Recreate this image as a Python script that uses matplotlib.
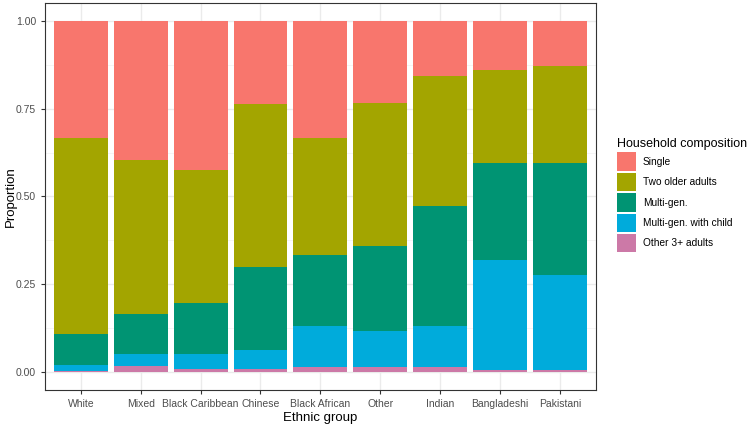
import numpy as np
import matplotlib
matplotlib.use("Agg")
import matplotlib.pyplot as plt
from matplotlib.patches import Patch

plt.rcParams["font.family"] = ["Liberation Sans", "DejaVu Sans"]

groups = ["White", "Mixed", "Black Caribbean", "Chinese", "Black African",
          "Other", "Indian", "Bangladeshi", "Pakistani"]

# stacking order from bottom to top
other_adults = [0.005, 0.018, 0.010, 0.010, 0.015, 0.015, 0.015, 0.006, 0.006]
multigen_child = [0.015, 0.035, 0.043, 0.055, 0.118, 0.102, 0.118, 0.314, 0.272]
multigen = [0.090, 0.114, 0.144, 0.235, 0.200, 0.243, 0.340, 0.275, 0.317]
two_older = [0.557, 0.438, 0.378, 0.462, 0.334, 0.407, 0.370, 0.265, 0.275]
single = [0.333, 0.395, 0.425, 0.238, 0.333, 0.233, 0.157, 0.140, 0.130]

labels = ["Single", "Two older adults", "Multi-gen.", "Multi-gen. with child",
          "Other 3+ adults"]
colors = ["#F8766D", "#A3A500", "#009473", "#00ABDB", "#CC79A7"]

fig = plt.figure(figsize=(7.55, 4.26), dpi=100)
ax = fig.add_axes([0.0596, 0.0845, 0.7294, 0.9085])

x = np.arange(1, len(groups) + 1)
series = [other_adults, multigen_child, multigen, two_older, single]
series_colors = colors[::-1]
bottom = np.zeros(len(groups))
for vals, col in zip(series, series_colors):
    ax.bar(x, vals, width=0.9, bottom=bottom, color=col, zorder=2)
    bottom += np.array(vals)

ax.set_xlim(0.4, 9.6)
ax.set_ylim(-0.05, 1.05)
ax.set_xticks(x)
ax.set_xticklabels(groups)
ax.set_yticks([0, 0.25, 0.5, 0.75, 1.0])
ax.set_yticklabels(["0.00", "0.25", "0.50", "0.75", "1.00"])
ax.set_yticks([0.125, 0.375, 0.625, 0.875], minor=True)
ax.grid(True, which="major", color="#EBEBEB", linewidth=1.0, zorder=0)
ax.grid(True, which="minor", axis="y", color="#F4F4F4", linewidth=0.6, zorder=0)
ax.set_axisbelow(True)
ax.tick_params(axis="both", which="major", labelsize=7.5, labelcolor="#4D4D4D",
               color="#333333", length=3, width=0.8)
ax.tick_params(which="minor", length=0)
for s in ax.spines.values():
    s.set_color("#333333")
    s.set_linewidth(0.8)

ax.set_xlabel("Ethnic group", fontsize=9.5, labelpad=2)
ax.set_ylabel("Proportion", fontsize=9.5)
ax.yaxis.set_label_coords(-0.051, 0.5)

handles = [Patch(facecolor=c, edgecolor="none") for c in colors]
leg = fig.legend(handles, labels, title="Household composition",
                 loc="upper left", bbox_to_anchor=(0.812, 0.685),
                 frameon=False, fontsize=7.3, title_fontsize=9.0,
                 handlelength=1.85, handleheight=2.4, handletextpad=0.7,
                 labelspacing=0.21, borderaxespad=0)
leg._legend_box.align = "left"

fig.savefig("out.png", dpi=100)
